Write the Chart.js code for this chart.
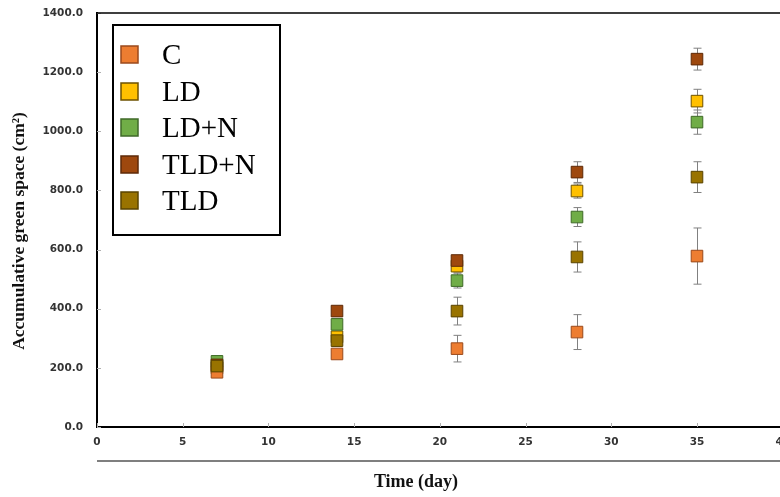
<!DOCTYPE html>
<html>
<head>
<meta charset="utf-8">
<script src="https://cdn.jsdelivr.net/npm/chart.js@4.4.1/dist/chart.umd.min.js"></script>
<style>
  html, body { margin: 0; padding: 0; background: #fff; overflow: hidden; }
  #wrap { width: 800px; height: 497px; position: relative; }
</style>
</head>
<body>
<div id="wrap"><canvas id="c" width="800" height="497"></canvas></div>
<script>
// ---- data ----
const days = [7, 14, 21, 28, 35];
const seriesNames = ["C", "LD", "LD+N", "TLD+N", "TLD"];
const valC    = [185, 247, 265, 321, 578];
const errC    = [8, 10, 45, 59, 95];
const valLD   = [200, 305, 544, 798, 1102];
const errLD   = [8, 12, 20, 24, 40];
const valLDN  = [222, 347, 495, 710, 1031];
const errLDN  = [8, 12, 25, 32, 41];
const valTLDN = [210, 392, 563, 862, 1244];
const errTLDN = [8, 12, 15, 35, 37];
const valTLD  = [206, 292, 392, 575, 845];
const errTLD  = [8, 14, 47, 51, 52];
const yTicks = [0, 200, 400, 600, 800, 1000, 1200, 1400];
const xTicks = [0, 5, 10, 15, 20, 25, 30, 35, 40];
const yTitle = "Accumulative green space (cm\u00B2)";
const xTitle = "Time (day)";

const fills   = ["#ED7D31", "#FFC000", "#70AD47", "#9E480E", "#997300"];
const borders = ["#9a4a1c", "#6e5200", "#3f6a28", "#5e2a08", "#5a4400"];
const drawOrder = [1, 4, 3, 2, 0];

const values = [valC, valLD, valLDN, valTLDN, valTLD];
const errors = [errC, errLD, errLDN, errTLDN, errTLD];

const datasets = seriesNames.map((name, i) => ({
  label: name,
  data: days.map((d, j) => ({ x: d, y: values[i][j] })),
  errs: errors[i],
  backgroundColor: fills[i],
  borderColor: borders[i],
  borderWidth: 1,
  pointStyle: 'rect',
  pointRadius: 8.2,
  pointHoverRadius: 8.2,
  showLine: false,
  order: drawOrder[i]
}));

const extras = {
  id: 'extras',
  beforeDatasetsDraw(chart) {
    const ctx = chart.ctx, xs = chart.scales.x, ys = chart.scales.y;
    ctx.save();
    ctx.strokeStyle = '#808080';
    ctx.lineWidth = 1;
    chart.data.datasets.forEach(ds => {
      ds.data.forEach((p, j) => {
        const e = ds.errs[j];
        const px = Math.round(xs.getPixelForValue(p.x)) + 0.5;
        const top = ys.getPixelForValue(p.y + e);
        const bot = ys.getPixelForValue(p.y - e);
        ctx.beginPath();
        ctx.moveTo(px, top); ctx.lineTo(px, bot);
        ctx.moveTo(px - 4, top); ctx.lineTo(px + 4, top);
        ctx.moveTo(px - 4, bot); ctx.lineTo(px + 4, bot);
        ctx.stroke();
      });
    });
    ctx.restore();
  },
  afterDraw(chart) {
    const ctx = chart.ctx, a = chart.chartArea, xs = chart.scales.x, ys = chart.scales.y;
    ctx.save();
    // small inward tick marks
    ctx.strokeStyle = '#b0b0b0';
    ctx.lineWidth = 1;
    yTicks.forEach(v => {
      const py = Math.round(ys.getPixelForValue(v)) + 0.5;
      ctx.beginPath(); ctx.moveTo(a.left, py); ctx.lineTo(a.left + 4, py); ctx.stroke();
    });
    xTicks.forEach(v => {
      const px = Math.round(xs.getPixelForValue(v)) + 0.5;
      ctx.beginPath(); ctx.moveTo(px, a.bottom); ctx.lineTo(px, a.bottom - 4); ctx.stroke();
    });
    // top & right border
    ctx.strokeStyle = '#000';
    ctx.lineWidth = 1.5;
    ctx.beginPath();
    ctx.moveTo(a.left, a.top); ctx.lineTo(a.right, a.top); ctx.lineTo(a.right, a.bottom);
    ctx.stroke();
    // separator line below tick labels
    ctx.lineWidth = 1.2;
    ctx.beginPath(); ctx.moveTo(a.left, 461); ctx.lineTo(chart.width, 461); ctx.stroke();
    // axis titles
    ctx.fillStyle = '#111';
    ctx.font = 'bold 18px "Liberation Serif", "Times New Roman", serif';
    ctx.textAlign = 'center'; ctx.textBaseline = 'middle';
    ctx.fillText(xTitle, 416, 482);
    ctx.save();
    ctx.translate(19, 231);
    ctx.rotate(-Math.PI / 2);
    ctx.font = 'bold 17.5px "Liberation Serif", "Times New Roman", serif';
    ctx.fillText(yTitle, 0, 0);
    ctx.restore();
    // legend
    ctx.lineWidth = 2;
    ctx.strokeStyle = '#000';
    ctx.fillStyle = '#fff';
    ctx.fillRect(113, 25, 167, 210);
    ctx.strokeRect(113, 25, 167, 210);
    const rowY = [55, 92, 128, 165, 201];
    chart.data.datasets.forEach((ds, i) => {
      const cy = rowY[i];
      ctx.fillStyle = ds.backgroundColor;
      ctx.fillRect(121, cy - 9, 17, 17);
      ctx.lineWidth = 1.5;
      ctx.strokeStyle = ds.borderColor;
      ctx.strokeRect(121, cy - 9, 17, 17);
      ctx.fillStyle = '#000';
      ctx.font = '29px "Liberation Serif", "Times New Roman", serif';
      ctx.textAlign = 'left'; ctx.textBaseline = 'middle';
      ctx.fillText(ds.label, 162, cy + 1);
    });
    ctx.restore();
  }
};

const tickFont = { family: '"DejaVu Sans", sans-serif', size: 10.5, weight: 'bold' };

function noPad(s) { s.paddingTop = 0; s.paddingBottom = 0; s.paddingLeft = 0; s.paddingRight = 0; }

new Chart(document.getElementById('c'), {
  type: 'scatter',
  data: { datasets },
  options: {
    responsive: false,
    animation: false,
    events: [],
    layout: { padding: { left: 0, right: 17.3, top: 13, bottom: 0 } },
    plugins: { legend: { display: false }, tooltip: { enabled: false } },
    scales: {
      x: {
        type: 'linear', min: 0, max: 40,
        afterBuildTicks: s => { s.ticks = xTicks.map(v => ({ value: v })); },
        afterFit: s => { s.height = 70; noPad(s); },
        grid: { display: false, drawTicks: false },
        border: { display: true, color: '#000', width: 2 },
        ticks: { font: tickFont, color: '#333', padding: 9, maxRotation: 0, callback: v => String(v) }
      },
      y: {
        type: 'linear', min: 0, max: 1400,
        afterBuildTicks: s => { s.ticks = yTicks.map(v => ({ value: v })); },
        afterFit: s => { s.width = 97; noPad(s); },
        grid: { display: false, drawTicks: false },
        border: { display: true, color: '#000', width: 2 },
        ticks: { font: tickFont, color: '#333', padding: 14, callback: v => Number(v).toFixed(1) }
      }
    }
  },
  plugins: [extras]
});
</script>
</body>
</html>
